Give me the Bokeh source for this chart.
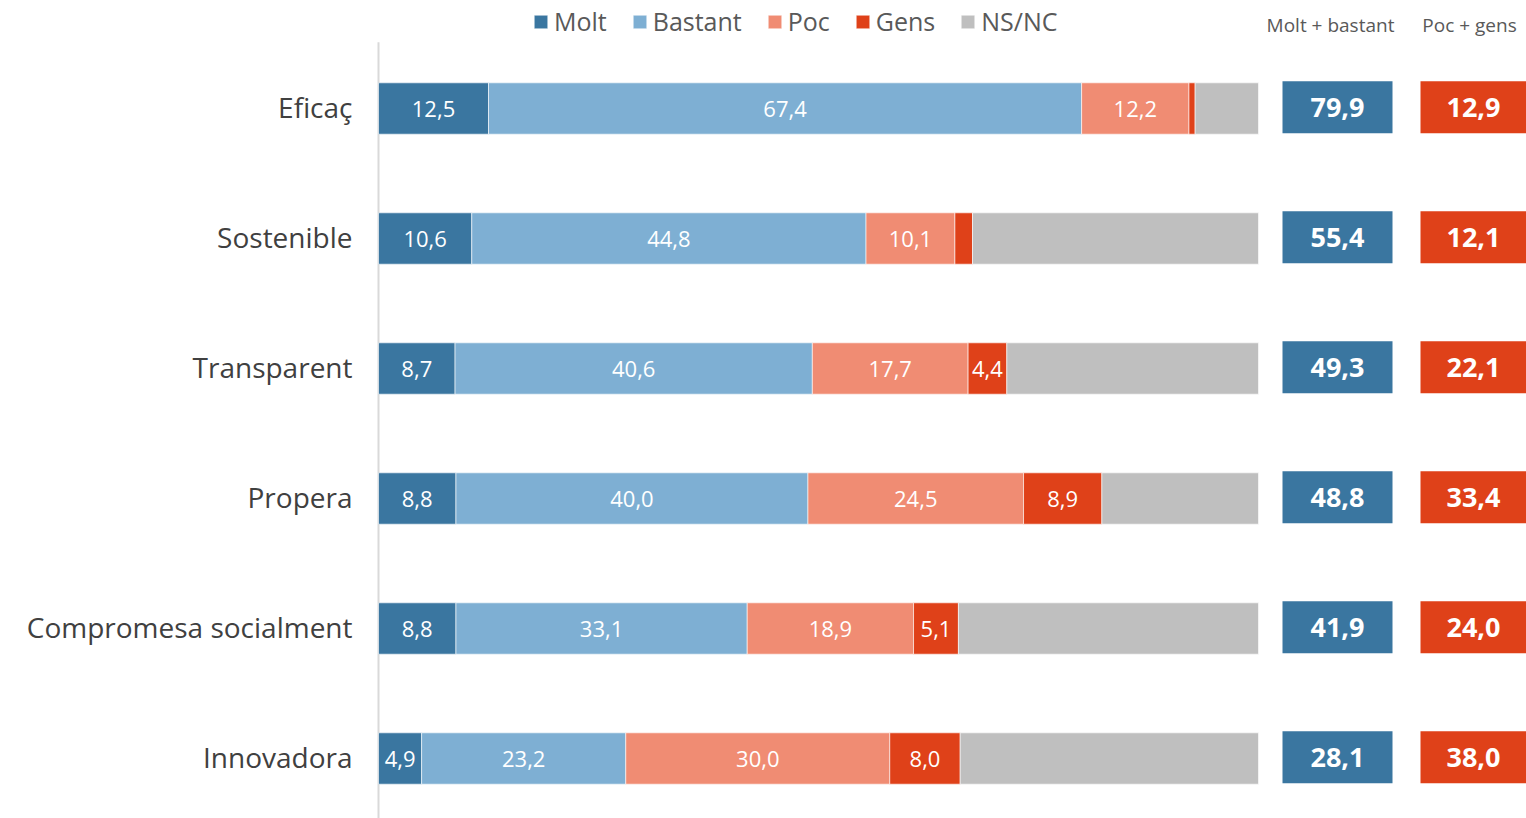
from bokeh.plotting import figure
from bokeh.models import Range1d, ColumnDataSource, Legend, LegendItem
from bokeh.core.properties import value
from bokeh.embed import file_html
from bokeh.resources import INLINE

categories = ["Eficaç", "Sostenible", "Transparent", "Propera", "Compromesa socialment", "Innovadora"]
molt = [12.5, 10.6, 8.7, 8.8, 8.8, 4.9]
bastant = [67.4, 44.8, 40.6, 40.0, 33.1, 23.2]
poc = [12.2, 10.1, 17.7, 24.5, 18.9, 30.0]
gens = [0.7, 2.0, 4.4, 8.9, 5.1, 8.0]
nsnc = [round(100 - a - b - c - d, 1) for a, b, c, d in zip(molt, bastant, poc, gens)]
molt_bastant = [79.9, 55.4, 49.3, 48.8, 41.9, 28.1]
poc_gens = [12.9, 12.1, 22.1, 33.4, 24.0, 38.0]

series_names = ["Molt", "Bastant", "Poc", "Gens", "NS/NC"]
series = [molt, bastant, poc, gens, nsnc]
colors = ["#3A76A0", "#7EAFD3", "#F08C73", "#DF4119", "#BFBFBF"]

FONT = "Open Sans"
W, H = 1526, 818
px_per_unit = 8.8
x0_px = 378
p = figure(width=W, height=H, output_backend="svg", toolbar_location=None,
           x_range=Range1d(-x0_px / px_per_unit, (W - x0_px) / px_per_unit),
           y_range=Range1d((H - 108) / 130, -108 / 130),
           min_border=0, min_border_left=0, min_border_right=0,
           min_border_top=0, min_border_bottom=0)
p.axis.visible = False
p.grid.visible = False
p.outline_line_color = None
p.background_fill_color = "white"

ys = list(range(len(categories)))
bar_h = 0.395

# vertical axis line
p.segment(x0=[0], x1=[0], y0=[-0.51], y1=[5.47], line_color="#D9D9D9", line_width=2)

renderers = []
left = [0.0] * len(categories)
for name, vals, col in zip(series_names, series, colors):
    right = [l + v for l, v in zip(left, vals)]
    src = ColumnDataSource(dict(y=ys, left=left, right=right))
    r = p.hbar(y="y", left="left", right="right", height=bar_h, source=src,
               fill_color=col, line_color="white", line_width=0.6)
    renderers.append(r)
    if name != "NS/NC":
        lx, ly, lt = [], [], []
        for i, v in enumerate(vals):
            if v >= 3:
                lx.append((left[i] + right[i]) / 2)
                ly.append(i)
                lt.append(f"{v:.1f}".replace(".", ","))
        p.text(x=lx, y=ly, text=lt, text_align="center", text_baseline="middle",
               text_color="white", text_font=value(FONT), text_font_size="22px",
               text_font_style="normal")
    left = right

# category labels
p.text(x=[-26 / px_per_unit] * len(categories), y=[y - 0.01 for y in ys], text=categories,
       text_align="right", text_baseline="middle", text_color="#404040",
       text_font=value(FONT), text_font_size="28px")

# summary boxes
bx = (1337 - x0_px) / px_per_unit
rx = (1473 - x0_px) / px_per_unit
p.rect(x=[bx] * 6, y=[y - 0.01 for y in ys], width=110 / px_per_unit, height=0.4,
       fill_color="#3A76A0", line_color=None)
p.rect(x=[rx] * 6, y=[y - 0.01 for y in ys], width=106 / px_per_unit, height=0.4,
       fill_color="#DF4119", line_color=None)
p.text(x=[bx] * 6, y=[y - 0.01 for y in ys], text=[f"{v:.1f}".replace(".", ",") for v in molt_bastant],
       text_align="center", text_baseline="middle", text_color="white",
       text_font=value(FONT), text_font_size="27px", text_font_style="bold")
p.text(x=[rx] * 6, y=[y - 0.01 for y in ys], text=[f"{v:.1f}".replace(".", ",") for v in poc_gens],
       text_align="center", text_baseline="middle", text_color="white",
       text_font=value(FONT), text_font_size="27px", text_font_style="bold")

# headers
hy = (24 - 108) / 130
p.text(x=[(1330 - x0_px) / px_per_unit, (1469 - x0_px) / px_per_unit], y=[hy, hy],
       text=["Molt + bastant", "Poc + gens"], text_align="center", text_baseline="middle",
       text_color="#595959", text_font=value(FONT), text_font_size="19px")

legend = Legend(items=[LegendItem(label=n, renderers=[r]) for n, r in zip(series_names, renderers)],
                orientation="horizontal", location=(532, H - 38),
                label_text_font=FONT, label_text_font_size="25px", label_text_color="#595959",
                glyph_width=17, glyph_height=17, label_standoff=5, spacing=24,
                padding=2, margin=0, border_line_color=None, background_fill_alpha=0)
p.add_layout(legend)

open("out.html", "w").write(file_html(p, INLINE))
